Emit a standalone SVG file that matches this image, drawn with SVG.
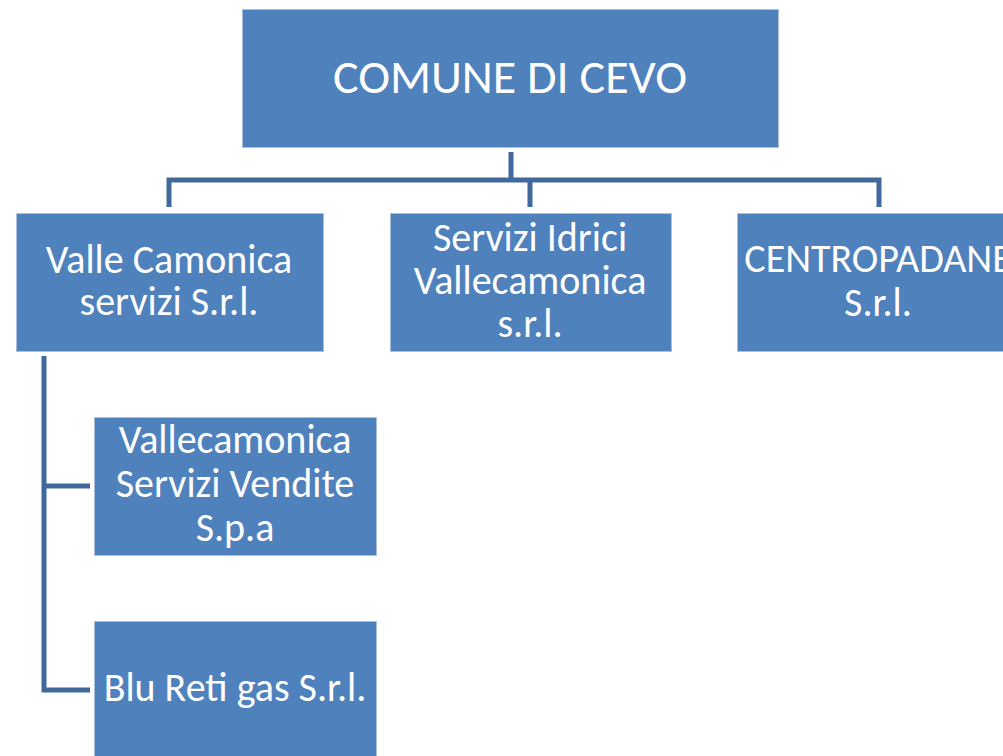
<svg xmlns="http://www.w3.org/2000/svg" width="1003" height="756" viewBox="0 0 1003 756">
<style>
.box{fill:#4f81bd;stroke:#a9bfdc;stroke-width:1}
.t{fill:#ffffff;font-family:Carlito,Lato,"Open Sans",sans-serif;font-size:40px;text-anchor:middle}
.big{font-size:48px}
.c{fill:none;stroke:#41699c;stroke-width:5;stroke-linecap:butt;stroke-linejoin:miter}
</style>
<rect width="1003" height="756" fill="#ffffff"/>
<g id="connectors">
<path class="c" d="M511 152 V180"/>
<path class="c" d="M169 207 V180 H879 V207"/>
<path class="c" d="M530 180 V207"/>
<path class="c" d="M44 356 V690 H90"/>
<path class="c" d="M44 486 H90"/>
</g>
<g id="comune">
<rect class="box" x="242.5" y="9.5" width="536" height="138"/>
<text class="t big" x="510" y="93">COMUNE DI CEVO</text>
</g>
<g id="valle-camonica-servizi">
<rect class="box" x="16.5" y="213.5" width="307" height="138"/>
<text class="t" x="169" y="273">Valle Camonica</text>
<text class="t" x="169" y="315">servizi S.r.l.</text>
</g>
<g id="servizi-idrici">
<rect class="box" x="390.5" y="213.5" width="281" height="138"/>
<text class="t" x="530" y="251">Servizi Idrici</text>
<text class="t" x="530" y="294">Vallecamonica</text>
<text class="t" x="530" y="337">s.r.l.</text>
</g>
<g id="centropadane">
<rect class="box" x="737.5" y="213.5" width="282" height="138"/>
<text class="t" x="878" y="272">CENTROPADANE</text>
<text class="t" x="878" y="316">S.r.l.</text>
</g>
<g id="vallecamonica-servizi-vendite">
<rect class="box" x="94.5" y="417.5" width="282" height="138"/>
<text class="t" x="235" y="453">Vallecamonica</text>
<text class="t" x="235" y="497">Servizi Vendite</text>
<text class="t" x="235" y="541">S.p.a</text>
</g>
<g id="blu-reti-gas">
<rect class="box" x="94.5" y="621.5" width="282" height="150"/>
<text class="t" x="235" y="701">Blu Reti gas S.r.l.</text>
</g>
</svg>
